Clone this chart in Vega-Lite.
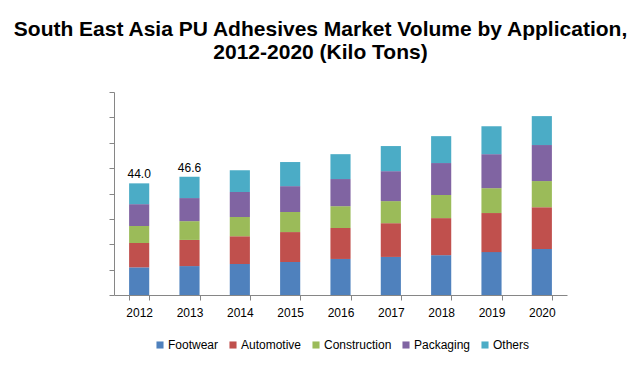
{
  "$schema": "https://vega.github.io/schema/vega-lite/v6.json",
  "width": 453,
  "height": 203,
  "autosize": "none",
  "padding": {"left": 114, "top": 92, "right": 73, "bottom": 71},
  "background": "white",
  "title": {
    "text": ["South East Asia PU Adhesives Market Volume by Application,", "2012-2020 (Kilo Tons)"],
    "font": "Liberation Sans",
    "fontSize": 21,
    "fontWeight": "bold",
    "color": "#000000",
    "anchor": "middle",
    "dx": -20,
    "offset": 29,
    "lineHeight": 23
  },
  "datasets": {
    "bars": [
      {"year": "2012", "application": "Footwear", "rank": 1, "volume": 10.9},
      {"year": "2012", "application": "Automotive", "rank": 2, "volume": 9.6},
      {"year": "2012", "application": "Construction", "rank": 3, "volume": 6.7},
      {"year": "2012", "application": "Packaging", "rank": 4, "volume": 8.6},
      {"year": "2012", "application": "Others", "rank": 5, "volume": 8.2},
      {"year": "2013", "application": "Footwear", "rank": 1, "volume": 11.4},
      {"year": "2013", "application": "Automotive", "rank": 2, "volume": 10.3},
      {"year": "2013", "application": "Construction", "rank": 3, "volume": 7.4},
      {"year": "2013", "application": "Packaging", "rank": 4, "volume": 9.1},
      {"year": "2013", "application": "Others", "rank": 5, "volume": 8.4},
      {"year": "2014", "application": "Footwear", "rank": 1, "volume": 12.2},
      {"year": "2014", "application": "Automotive", "rank": 2, "volume": 11.0},
      {"year": "2014", "application": "Construction", "rank": 3, "volume": 7.5},
      {"year": "2014", "application": "Packaging", "rank": 4, "volume": 9.9},
      {"year": "2014", "application": "Others", "rank": 5, "volume": 8.6},
      {"year": "2015", "application": "Footwear", "rank": 1, "volume": 13.0},
      {"year": "2015", "application": "Automotive", "rank": 2, "volume": 11.8},
      {"year": "2015", "application": "Construction", "rank": 3, "volume": 7.9},
      {"year": "2015", "application": "Packaging", "rank": 4, "volume": 10.2},
      {"year": "2015", "application": "Others", "rank": 5, "volume": 9.5},
      {"year": "2016", "application": "Footwear", "rank": 1, "volume": 14.2},
      {"year": "2016", "application": "Automotive", "rank": 2, "volume": 12.2},
      {"year": "2016", "application": "Construction", "rank": 3, "volume": 8.6},
      {"year": "2016", "application": "Packaging", "rank": 4, "volume": 10.7},
      {"year": "2016", "application": "Others", "rank": 5, "volume": 9.8},
      {"year": "2017", "application": "Footwear", "rank": 1, "volume": 15.0},
      {"year": "2017", "application": "Automotive", "rank": 2, "volume": 13.3},
      {"year": "2017", "application": "Construction", "rank": 3, "volume": 8.7},
      {"year": "2017", "application": "Packaging", "rank": 4, "volume": 11.8},
      {"year": "2017", "application": "Others", "rank": 5, "volume": 9.9},
      {"year": "2018", "application": "Footwear", "rank": 1, "volume": 15.7},
      {"year": "2018", "application": "Automotive", "rank": 2, "volume": 14.6},
      {"year": "2018", "application": "Construction", "rank": 3, "volume": 9.1},
      {"year": "2018", "application": "Packaging", "rank": 4, "volume": 12.6},
      {"year": "2018", "application": "Others", "rank": 5, "volume": 10.6},
      {"year": "2019", "application": "Footwear", "rank": 1, "volume": 16.9},
      {"year": "2019", "application": "Automotive", "rank": 2, "volume": 15.4},
      {"year": "2019", "application": "Construction", "rank": 3, "volume": 9.8},
      {"year": "2019", "application": "Packaging", "rank": 4, "volume": 13.4},
      {"year": "2019", "application": "Others", "rank": 5, "volume": 11.0},
      {"year": "2020", "application": "Footwear", "rank": 1, "volume": 18.1},
      {"year": "2020", "application": "Automotive", "rank": 2, "volume": 16.5},
      {"year": "2020", "application": "Construction", "rank": 3, "volume": 10.3},
      {"year": "2020", "application": "Packaging", "rank": 4, "volume": 14.2},
      {"year": "2020", "application": "Others", "rank": 5, "volume": 11.4}
    ],
    "labels": [
      {"year": "2012", "total": 44.0},
      {"year": "2013", "total": 46.6}
    ]
  },
  "config": {
    "view": {"stroke": null},
    "font": "Liberation Sans"
  },
  "layer": [
    {
      "data": {"name": "bars"},
      "mark": {"type": "bar"},
      "encoding": {
        "x": {
          "field": "year",
          "type": "ordinal",
          "title": null,
          "scale": {"paddingInner": 0.6, "paddingOuter": 0.3},
          "axis": {
            "labelAngle": 0,
            "labelFont": "Liberation Sans",
            "labelFontSize": 12,
            "labelColor": "#000000",
            "labelPadding": 7,
            "domainColor": "#868686",
            "tickColor": "#868686",
            "tickBand": "extent",
            "tickSize": 5
          }
        },
        "y": {
          "field": "volume",
          "type": "quantitative",
          "stack": "zero",
          "title": null,
          "scale": {"domain": [0, 80], "nice": false},
          "axis": {
            "values": [0, 10, 20, 30, 40, 50, 60, 70, 80],
            "tickCount": 9,
            "labels": false,
            "grid": false,
            "domainColor": "#868686",
            "tickColor": "#868686",
            "tickSize": 5
          }
        },
        "order": {"field": "rank", "type": "quantitative", "sort": "ascending"},
        "color": {
          "field": "application",
          "type": "nominal",
          "scale": {
            "domain": ["Footwear", "Automotive", "Construction", "Packaging", "Others"],
            "range": ["#4F81BD", "#C0504D", "#9BBB59", "#8064A2", "#4BACC6"]
          },
          "legend": {
            "title": null,
            "orient": "none",
            "legendX": 40,
            "legendY": 247,
            "direction": "horizontal",
            "symbolType": "square",
            "symbolSize": 50,
            "symbolStrokeWidth": 0,
            "labelOffset": 2,
            "labelFont": "Liberation Sans",
            "labelFontSize": 12,
            "labelColor": "#000000",
            "columnPadding": 8
          }
        }
      }
    },
    {
      "data": {"name": "labels"},
      "mark": {"type": "text", "dy": -9, "font": "Liberation Sans", "fontSize": 12, "color": "#000000"},
      "encoding": {
        "x": {"field": "year", "type": "ordinal"},
        "y": {
          "field": "total",
          "type": "quantitative",
          "axis": {
            "values": [0, 10, 20, 30, 40, 50, 60, 70, 80],
            "tickCount": 9,
            "labels": false,
            "grid": false,
            "domainColor": "#868686",
            "tickColor": "#868686",
            "tickSize": 5
          }
        },
        "text": {"field": "total", "type": "quantitative", "format": ".1f"}
      }
    }
  ]
}
